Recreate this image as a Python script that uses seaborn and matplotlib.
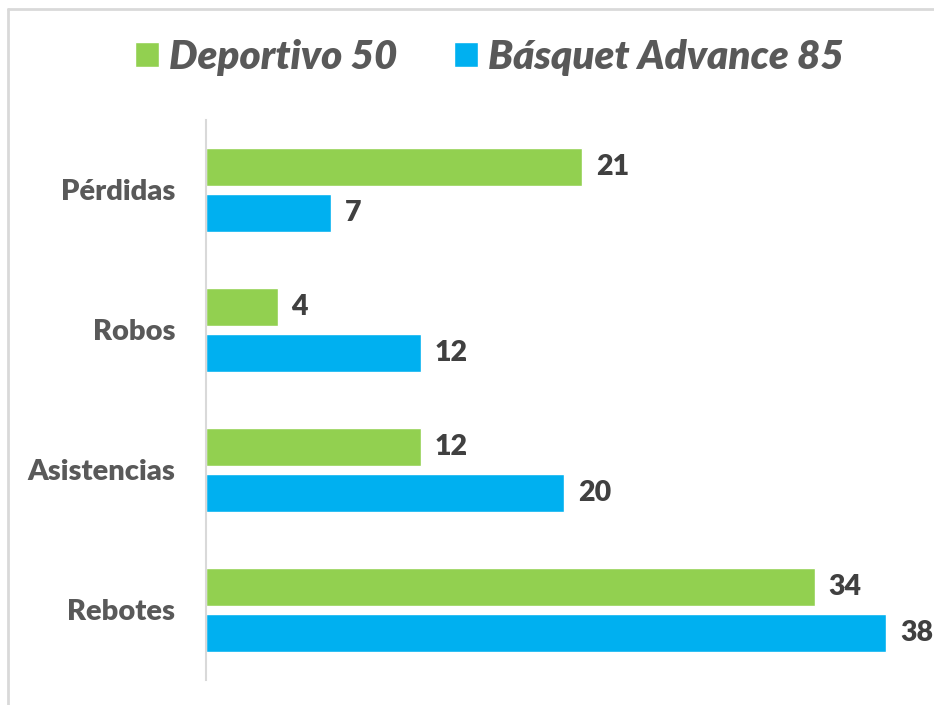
import pandas as pd
import matplotlib.pyplot as plt
import seaborn as sns
from matplotlib.lines import Line2D

# data
categorias = ['Pérdidas', 'Robos', 'Asistencias', 'Rebotes']
equipos = ['Deportivo 50', 'Básquet Advance 85']
deportivo = [21, 4, 12, 34]
basquet = [7, 12, 20, 38]
colores = ['#92D050', '#00B0F0']

df = pd.DataFrame({
    'categoria': categorias * 2,
    'equipo': [equipos[0]] * 4 + [equipos[1]] * 4,
    'valor': deportivo + basquet,
})

sns.set_theme(style='white')
plt.rcParams['font.family'] = ['Lato', 'DejaVu Sans']

fig = plt.figure(figsize=(9.34, 7.05), dpi=100)
ax = fig.add_axes([206 / 934, 25 / 705, 719 / 934, 560 / 705])

sns.barplot(data=df, y='categoria', x='valor', hue='equipo', order=categorias,
            hue_order=equipos, palette=colores, orient='h', width=0.66, gap=0.17,
            saturation=1, ax=ax)

for cont in ax.containers:
    ax.bar_label(cont, padding=10, fontsize=20.5, fontweight=800, color='#404040')

ax.set_xlim(0, 719 / 17.9)
ax.set_xlabel('')
ax.set_ylabel('')
ax.set_xticks([])
ax.tick_params(axis='y', length=0, pad=22)
for lbl in ax.get_yticklabels():
    lbl.set_fontsize(21)
    lbl.set_fontweight(800)
    lbl.set_color('#595959')

for s in ['top', 'right', 'bottom']:
    ax.spines[s].set_visible(False)
ax.spines['left'].set_color('#D9D9D9')
ax.spines['left'].set_linewidth(1.5)

handles, labels = ax.get_legend_handles_labels()
ax.legend(handles, labels, loc='center', bbox_to_anchor=(489 / 934, 1 - 57 / 705),
          bbox_transform=fig.transFigure, ncol=2, frameon=False,
          prop={'size': 29, 'weight': 800, 'style': 'italic'},
          handlelength=0.6, handleheight=0.6, handletextpad=0.25, columnspacing=1.4,
          labelcolor='#595959')

# chart border (top and left visible)
fig.add_artist(Line2D([8 / 934, 1], [1 - 9 / 705, 1 - 9 / 705], color='#D9D9D9', lw=2,
                      transform=fig.transFigure))
fig.add_artist(Line2D([8 / 934, 8 / 934], [0, 1 - 9 / 705], color='#D9D9D9', lw=2,
                      transform=fig.transFigure))

fig.savefig('out.png', dpi=100)
